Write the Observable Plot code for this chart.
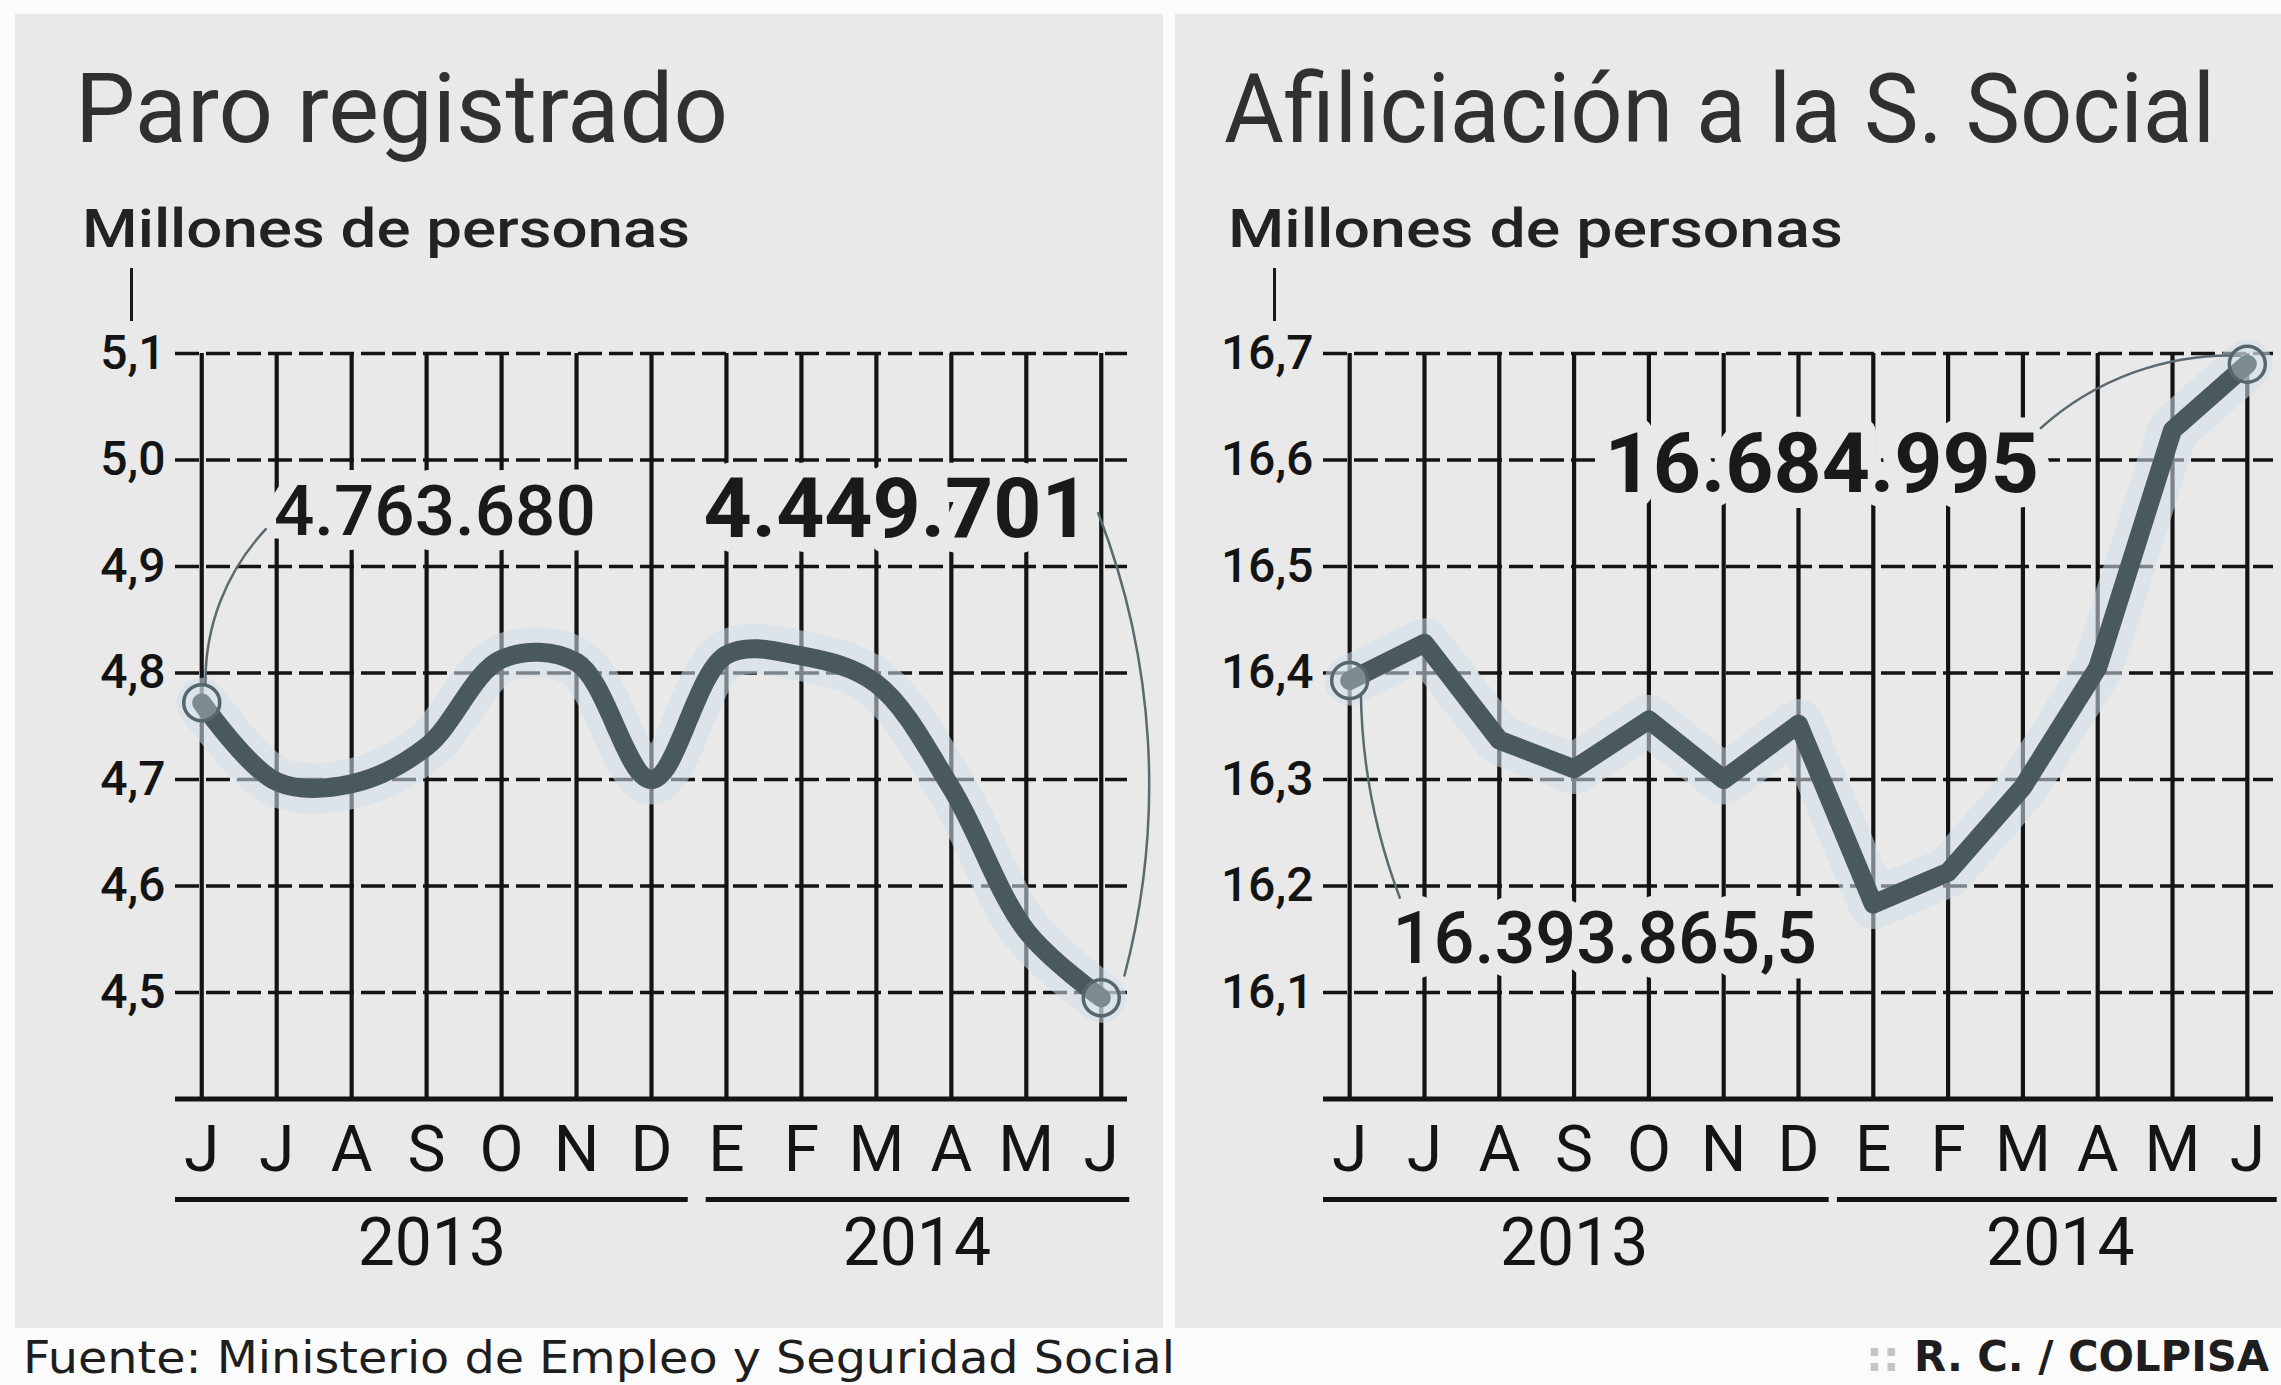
<!DOCTYPE html>
<html>
<head>
<meta charset="utf-8">
<script src="https://cdn.jsdelivr.net/npm/d3@7"></script>
<script src="https://cdn.jsdelivr.net/npm/@observablehq/plot@0.6"></script>
<style>
  html, body { margin: 0; padding: 0; background: #fbfbfb; }
  body { width: 2281px; height: 1385px; overflow: hidden; position: relative; font-family: Roboto, sans-serif; }
  .panel { position: absolute; top: 14px; height: 1314px; background: #e8e9e8; overflow: hidden; }
  .panel svg { position: absolute; top: 266px; left: 0; overflow: visible; }
  .t { position: absolute; white-space: nowrap; line-height: 1; transform-origin: 0 0; color: #303030; }
  .stub { position: absolute; width: 3px; background: #1a1a1a; }
</style>
</head>
<body>
<div id="p1" class="panel" style="left:15px;width:1148px;"></div>
<div id="p2" class="panel" style="left:1175px;width:1106px;"></div>

<div class="t" id="t1" style="left:75px;top:61px;font-size:97px;font-weight:400;">Paro registrado</div>
<div class="t" id="t2" style="left:1224px;top:61px;font-size:97px;font-weight:400;">Afiliciación a la S. Social</div>
<div class="t" id="s1" style="left:82px;top:203px;font-size:53px;font-weight:500;color:#222;">Millones de personas</div>
<div class="t" id="s2" style="left:1228px;top:203px;font-size:53px;font-weight:500;color:#222;">Millones de personas</div>
<div class="stub" style="left:130px;top:268px;height:53px;"></div>
<div class="stub" style="left:1273px;top:268px;height:53px;"></div>
<div class="t" id="src" style="left:23px;top:1335px;font-size:45px;font-family:'DejaVu Sans',sans-serif;color:#1e1e1e;">Fuente: Ministerio de Empleo y Seguridad Social</div>
<div class="t" style="left:1866px;top:1336px;font-size:42px;font-family:'DejaVu Sans',sans-serif;font-weight:700;color:#c4c4c4;">::</div>
<div class="t" id="cr" style="left:1914px;top:1336px;font-size:42px;font-family:'DejaVu Sans',sans-serif;font-weight:700;color:#1e1e1e;">R. C. / COLPISA</div>

<script>
// ---- data ----
const months = ["J", "J", "A", "S", "O", "N", "D", "E", "F", "M", "A", "M", "J"];
const paro = [4.772, 4.698, 4.696, 4.731, 4.813, 4.810, 4.700, 4.817, 4.816, 4.790, 4.692, 4.558, 4.495];
const afiliacion = [16.393, 16.428, 16.337, 16.310, 16.356, 16.300, 16.352, 16.183, 16.213, 16.293, 16.405, 16.628, 16.690];
const paroTicks = [4.5, 4.6, 4.7, 4.8, 4.9, 5.0, 5.1];
const afilTicks = [16.1, 16.2, 16.3, 16.4, 16.5, 16.6, 16.7];
const paroYears = [
  {year: "2013", from: -0.35, to: 6.49, mid: 3.07},
  {year: "2014", from: 6.73, to: 12.38, mid: 9.54}
];
const afilYears = [
  {year: "2013", from: -0.35, to: 6.41, mid: 3.0},
  {year: "2014", from: 6.52, to: 12.4, mid: 9.5}
];
const paroLabels = [
  {text: "4.763.680", i: 3.11, v: 4.951, bold: false},
  {text: "4.449.701", i: 9.27, v: 4.953, bold: true}
];
const afilLabels = [
  {text: "16.684.995", i: 6.31, v: 16.595, bold: true},
  {text: "16.393.865,5", i: 3.41, v: 16.149, bold: false}
];
const paroLeaders = [
  {i1: 0.05, v1: 4.79, i2: 0.855, v2: 4.935, bend: 22},
  {i1: 11.96, v1: 4.95, i2: 12.31, v2: 4.516, bend: 18}
];
const afilLeaders = [
  {i1: 9.24, v1: 16.63, i2: 11.91, v2: 16.698, bend: 22},
  {i1: 0.15, v1: 16.381, i2: 0.67, v2: 16.189, bend: -10}
];

// ---- styling ----
const FONT = "Roboto, sans-serif";
const BG = "#e8e9e8";
const INK = "#141414";
const LINE = "#4a5960";
const fmt = d => d.toFixed(1).replace(".", ",");

function chart({values, domain, ticks, years, labels, leaders, width, marginLeft, marginRight, curve, sizes}) {
  const data = values.map((v, i) => ({i, v}));
  const yMin = domain[0];
  const ends = [data[0], data[data.length - 1]];
  return Plot.plot({
    width,
    height: 1048,
    marginTop: 73,
    marginBottom: 229.5,
    marginLeft,
    marginRight,
    style: {background: "transparent", fontFamily: FONT, color: INK, overflow: "visible"},
    x: {domain: [-0.35, 12.35]},
    y: {domain},
    marks: [
      Plot.gridX(d3.range(13), {stroke: INK, strokeOpacity: 1, strokeWidth: 4.2}),
      Plot.gridY(ticks, {stroke: INK, strokeOpacity: 1, strokeWidth: 3.5, strokeDasharray: "24 7"}),
      Plot.ruleY([yMin], {stroke: INK, strokeWidth: 5}),
      Plot.axisY(ticks, {tickSize: 0, tickPadding: 10, tickFormat: fmt, fontSize: 48, fontWeight: 500, label: null}),
      Plot.axisX(d3.range(13), {tickSize: 0, tickPadding: 27, tickFormat: i => months[i], fontSize: 64, label: null}),
      Plot.ruleY(years, {y: () => yMin, x1: "from", x2: "to", dy: 100.5, stroke: INK, strokeWidth: 5}),
      Plot.text(years, {x: "mid", y: () => yMin, text: "year", dy: 144.5, fontSize: 66, fill: INK}),
      ...labels.map((l, k) => Plot.text([l], {
        x: "i", y: "v", text: "text", fontSize: sizes[k], fontWeight: l.bold ? 700 : 500,
        fill: "#1a1a1a", stroke: BG, strokeWidth: 30, strokeLinejoin: "round", paintOrder: "stroke"
      })),
      Plot.line(data, {x: "i", y: "v", curve, stroke: "#d2e0ea", strokeWidth: 50, strokeOpacity: 0.55, strokeLinejoin: "round", strokeLinecap: "round"}),
      Plot.line(data, {x: "i", y: "v", curve, stroke: LINE, strokeWidth: 19, strokeLinejoin: "round", strokeLinecap: "round"}),
      ...leaders.map(l => Plot.arrow([l], {x1: "i1", y1: "v1", x2: "i2", y2: "v2", bend: l.bend, headLength: 0, stroke: "#5b6a70", strokeWidth: 2.5})),
      Plot.dot(ends, {x: "i", y: "v", r: 18, stroke: "#56666d", strokeWidth: 3.5, fill: "#dbe6ee", fillOpacity: 0.35})
    ]
  });
}

document.getElementById("p1").appendChild(chart({
  values: paro, domain: [4.4, 5.1], ticks: paroTicks, years: paroYears, labels: paroLabels,
  leaders: paroLeaders, width: 1148, marginLeft: 160, marginRight: 36, curve: "catmull-rom", sizes: [71, 84]
}));
document.getElementById("p2").appendChild(chart({
  values: afiliacion, domain: [16.0, 16.7], ticks: afilTicks, years: afilYears, labels: afilLabels,
  leaders: afilLeaders, width: 1106, marginLeft: 148, marginRight: 8, curve: "linear", sizes: [84, 72]
}));

function fit(id, target) {
  const el = document.getElementById(id);
  el.style.transform = "none";
  const w = el.getBoundingClientRect().width;
  el.style.transform = `scaleX(${target / w})`;
}
fit("t1", 653);
fit("t2", 991);
fit("s1", 608);
fit("s2", 615);
fit("src", 1152);
fit("cr", 355);
</script>
</body>
</html>
